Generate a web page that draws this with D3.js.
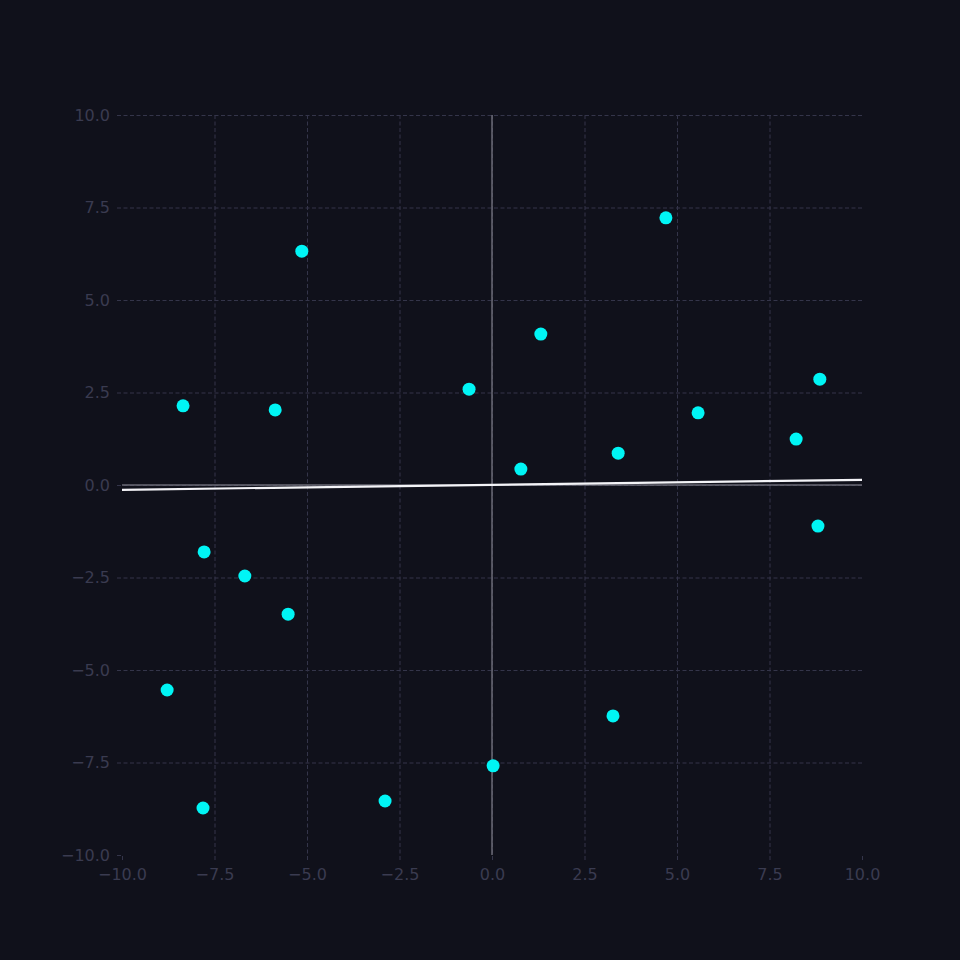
<!DOCTYPE html>
<html>
<head>
<meta charset="utf-8">
<script src="https://cdn.jsdelivr.net/npm/d3@7"></script>
<style>
  html, body { margin: 0; padding: 0; background: #10111b; }
  svg { display: block; }
</style>
</head>
<body>
<script>
// points
const xs = [-5.14, 4.70, -8.35, -5.86, -0.62, 1.32, 0.78, 3.41, 5.57, 8.22,
            8.86, 8.81, -7.78, -6.68, -5.51, -8.78, 3.27, 0.03, -2.89, -7.81];
const ys = [6.32, 7.22, 2.14, 2.03, 2.59, 4.08, 0.43, 0.86, 1.95, 1.24,
            2.86, -1.11, -1.81, -2.46, -3.49, -5.54, -6.24, -7.59, -8.54, -8.73];
// fitted line ends
const fitX = [-10, 10];
const fitY = [-0.13, 0.14];
const ticks = [-10, -7.5, -5, -2.5, 0, 2.5, 5, 7.5, 10];

const W = 960, H = 960;
const margin = {top: 115, right: 98, bottom: 105, left: 122};
const width = W - margin.left - margin.right;
const height = H - margin.top - margin.bottom;

const svg = d3.select("body").append("svg")
    .attr("width", W)
    .attr("height", H)
    .style("background", "#10111b");

const g = svg.append("g")
    .attr("transform", "translate(" + margin.left + "," + margin.top + ")");

const x = d3.scaleLinear().domain([-10, 10]).range([0, width]);
const y = d3.scaleLinear().domain([-10, 10]).range([height, 0]);

const fmt = d => d3.format(".1f")(d).replace("-", "\u2212");

// x axis + vertical grid (edge ticks only get a stub)
const xAxis = g.append("g")
    .attr("transform", "translate(0," + height + ")")
    .call(d3.axisBottom(x).tickValues(ticks).tickFormat(fmt)
        .tickSizeInner(-height - 5).tickSizeOuter(0).tickPadding(14));
xAxis.select(".domain").remove();
xAxis.selectAll(".tick line")
    .attr("y1", 5)
    .attr("y2", d => Math.abs(d) === 10 ? 0 : -height)
    .attr("stroke", "#34354a")
    .attr("stroke-dasharray", "4,2.5");

// y axis + horizontal grid
const yAxis = g.append("g")
    .call(d3.axisLeft(y).tickValues(ticks).tickFormat(fmt)
        .tickSizeInner(-width - 5).tickSizeOuter(0).tickPadding(12));
yAxis.select(".domain").remove();
yAxis.selectAll(".tick line")
    .attr("x1", -5)
    .attr("x2", d => d === -10 ? 0 : width)
    .attr("stroke", "#34354a")
    .attr("stroke-dasharray", "4,2.5");

svg.selectAll(".tick text")
    .attr("fill", "#3a3b50")
    .style("font-family", "DejaVu Sans, sans-serif")
    .style("font-size", "16px");

// zero lines
g.append("line")
    .attr("x1", x(0)).attr("x2", x(0))
    .attr("y1", 0).attr("y2", height)
    .attr("stroke", "#6a6a76").attr("stroke-width", 1.5);
g.append("line")
    .attr("x1", 0).attr("x2", width)
    .attr("y1", y(0)).attr("y2", y(0))
    .attr("stroke", "#6a6a76").attr("stroke-width", 1.5);

// fit line
g.append("path")
    .datum(d3.zip(fitX, fitY))
    .attr("d", d3.line().x(d => x(d[0])).y(d => y(d[1])))
    .attr("fill", "none")
    .attr("stroke", "#f4f4f8")
    .attr("stroke-width", 2.2);

// points
g.selectAll("circle.pt")
    .data(d3.zip(xs, ys))
    .enter()
    .append("circle")
    .attr("class", "pt")
    .attr("cx", d => x(d[0]))
    .attr("cy", d => y(d[1]))
    .attr("r", 6.5)
    .attr("fill", "#00f5f5");
</script>
</body>
</html>
